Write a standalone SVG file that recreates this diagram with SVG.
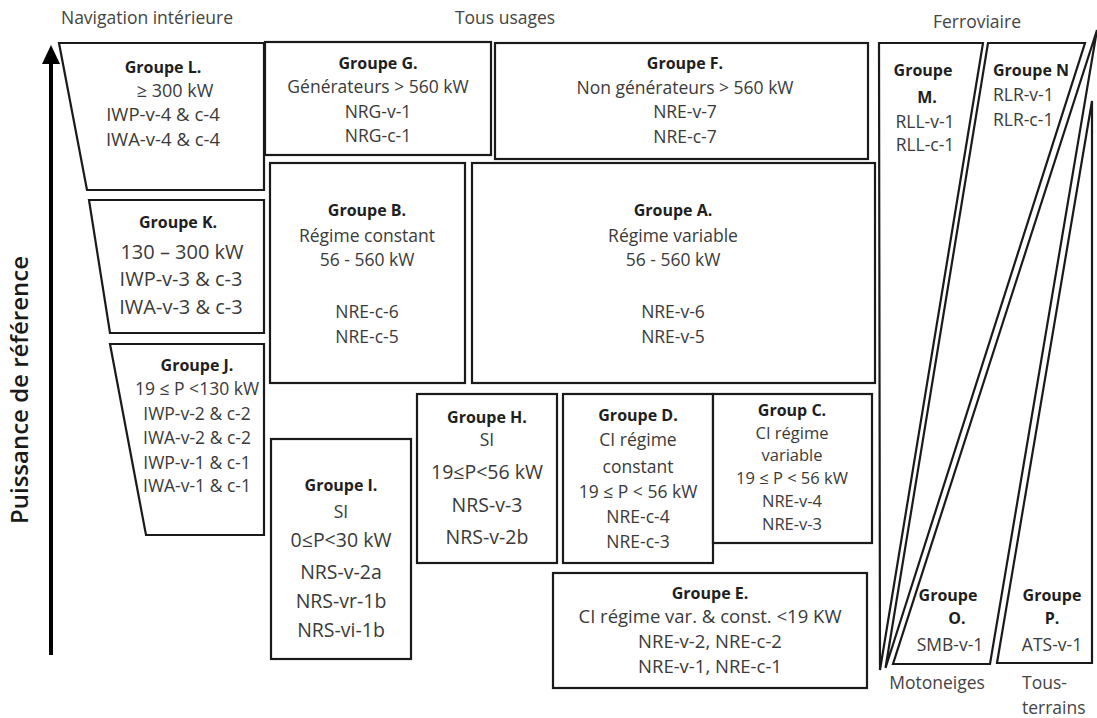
<svg xmlns="http://www.w3.org/2000/svg" width="1097" height="718" viewBox="0 0 1097 718">
<style>
text{font-family:"Open Sans","Liberation Sans",sans-serif;fill:#3a3a3a;text-anchor:middle}
.b{font-weight:bold;fill:#1e1e1e;font-size:16px}
.t{font-size:17.5px}
.s{font-size:16.5px}
.m{font-size:18.5px}
.l{font-size:19.5px}
.h{font-size:17.5px;fill:#444}
.st{text-anchor:start}
.box{fill:#fff;stroke:#1a1a1a;stroke-width:2.2;stroke-linejoin:miter}
</style>
<rect width="1097" height="718" fill="#fff"/>

<g id="headers">
<text class="h" x="147" y="24">Navigation intérieure</text>
<text class="h" x="505" y="24">Tous usages</text>
<text class="h" x="977" y="28">Ferroviaire</text>
<text class="h" x="937" y="689">Motoneiges</text>
<text class="h st" x="1022" y="689">Tous-</text>
<text class="h st" x="1022" y="714">terrains</text>
</g>

<g id="axis">
<line x1="51" y1="655" x2="51" y2="60" stroke="#000" stroke-width="4"/>
<polygon points="51,45 42,64 60,64" fill="#000"/>
<text x="22" y="390" transform="rotate(-90 22 390)" style="font-size:24px;font-weight:600;fill:#1a1a1a" dominant-baseline="middle">Puissance de référence</text>
</g>

<g id="groupe-L">
<polygon class="box" points="59,43 264,43 264,190 87,190"/>
<text class="b" x="163" y="73">Groupe L.</text>
<text style="font-size:18px" x="175" y="97">≥ 300 kW</text>
<text class="m" x="163" y="121">IWP-v-4 &amp; c-4</text>
<text class="m" x="163" y="146">IWA-v-4 &amp; c-4</text>
</g>

<g id="groupe-G">
<rect class="box" x="265" y="42" width="226" height="113"/>
<text class="b" x="378" y="69">Groupe G.</text>
<text class="t" x="378" y="93">Générateurs &gt; 560 kW</text>
<text class="t" x="378" y="118">NRG-v-1</text>
<text class="t" x="378" y="142">NRG-c-1</text>
</g>

<g id="groupe-F">
<rect class="box" x="495" y="43" width="373" height="116"/>
<text class="b" x="685" y="69">Groupe F.</text>
<text class="t" x="685" y="94">Non générateurs &gt; 560 kW</text>
<text class="t" x="685" y="118">NRE-v-7</text>
<text class="t" x="685" y="143">NRE-c-7</text>
</g>

<g id="groupe-K">
<polygon class="box" points="89,200 264,200 264,333 110,333"/>
<text class="b" x="178" y="228">Groupe K.</text>
<text style="font-size:20px" x="182" y="259">130 – 300 kW</text>
<text style="font-size:20px" x="181" y="286">IWP-v-3 &amp; c-3</text>
<text style="font-size:20px" x="181" y="314">IWA-v-3 &amp; c-3</text>
</g>

<g id="groupe-J">
<polygon class="box" points="110,344 264,344 264,535 146,535"/>
<text class="b" x="197" y="371">Groupe J.</text>
<text class="t" x="197" y="395">19 ≤ P &lt;130 kW</text>
<text class="t" x="197" y="420">IWP-v-2 &amp; c-2</text>
<text class="t" x="197" y="444">IWA-v-2 &amp; c-2</text>
<text class="t" x="197" y="469">IWP-v-1 &amp; c-1</text>
<text class="t" x="197" y="492">IWA-v-1 &amp; c-1</text>
</g>

<g id="groupe-B">
<rect class="box" x="270" y="163" width="195" height="220"/>
<text class="b" x="367" y="216">Groupe B.</text>
<text class="t" x="367" y="242">Régime constant</text>
<text class="t" x="367" y="266">56 - 560 kW</text>
<text class="t" x="367" y="318">NRE-c-6</text>
<text class="t" x="367" y="343">NRE-c-5</text>
</g>

<g id="groupe-A">
<rect class="box" x="472" y="163" width="403" height="220"/>
<text class="b" x="673" y="216">Groupe A.</text>
<text class="t" x="673" y="242">Régime variable</text>
<text class="t" x="673" y="266">56 - 560 kW</text>
<text class="t" x="673" y="318">NRE-v-6</text>
<text class="t" x="673" y="343">NRE-v-5</text>
</g>

<g id="groupe-I">
<rect class="box" x="271" y="439" width="140" height="220"/>
<text class="b" x="341" y="491">Groupe I.</text>
<text class="t" x="341" y="518">SI</text>
<text class="l" x="341" y="547">0≤P&lt;30 kW</text>
<text class="l" x="341" y="579">NRS-v-2a</text>
<text class="l" x="341" y="608">NRS-vr-1b</text>
<text class="l" x="341" y="637">NRS-vi-1b</text>
</g>

<g id="groupe-H">
<rect class="box" x="417" y="394" width="140" height="169"/>
<text class="b" x="487" y="423">Groupe H.</text>
<text class="t" x="487" y="446">SI</text>
<text class="l" x="487" y="479">19≤P&lt;56 kW</text>
<text class="l" x="487" y="512">NRS-v-3</text>
<text class="l" x="487" y="544">NRS-v-2b</text>
</g>

<g id="groupe-D">
<rect class="box" x="563" y="394" width="150" height="169"/>
<text class="b" x="638" y="421">Groupe D.</text>
<text class="t" x="638" y="446">CI régime</text>
<text class="t" x="638" y="473">constant</text>
<text class="t" x="638" y="498">19 ≤ P &lt; 56 kW</text>
<text class="t" x="638" y="523">NRE-c-4</text>
<text class="t" x="638" y="548">NRE-c-3</text>
</g>

<g id="groupe-C">
<rect class="box" x="713" y="394" width="159" height="149"/>
<text class="b" x="792" y="416">Group C.</text>
<text class="s" x="792" y="439">CI régime</text>
<text class="s" x="792" y="461">variable</text>
<text class="s" x="792" y="484">19 ≤ P &lt; 56 kW</text>
<text class="s" x="792" y="507">NRE-v-4</text>
<text class="s" x="792" y="530">NRE-v-3</text>
</g>

<g id="groupe-E">
<rect class="box" x="553" y="573" width="314" height="115"/>
<text class="b" x="710" y="599">Groupe E.</text>
<text class="m" x="710" y="623">CI régime var. &amp; const. &lt;19 KW</text>
<text class="m" x="710" y="648">NRE-v-2, NRE-c-2</text>
<text class="m" x="710" y="673">NRE-v-1, NRE-c-1</text>
</g>

<g id="groupe-M">
<polygon class="box" points="879,43 983,43 880,670"/>
<text class="b" x="923" y="76">Groupe</text>
<text class="b" x="927" y="103">M.</text>
<text class="t" x="925" y="128">RLL-v-1</text>
<text class="t" x="925" y="151">RLL-c-1</text>
</g>

<g id="groupe-N">
<polygon class="box" points="988,43 1085,43 885.5,668"/>
<text class="b st" x="993" y="76">Groupe N</text>
<text class="t st" x="993" y="101">RLR-v-1</text>
<text class="t st" x="993" y="126">RLR-c-1</text>
</g>

<g id="groupe-O">
<polygon class="box" points="893,664 990,664 1097,30"/>
<text class="b" x="948" y="601">Groupe</text>
<text class="b" x="957" y="624">O.</text>
<text class="t" x="950" y="651">SMB-v-1</text>
</g>

<g id="groupe-P">
<polygon class="box" points="997,663 1092,663 1092,101"/>
<text class="b" x="1052" y="601">Groupe</text>
<text class="b" x="1052" y="624">P.</text>
<text class="t" x="1052" y="651">ATS-v-1</text>
</g>

<g id="connectors"></g>
</svg>
